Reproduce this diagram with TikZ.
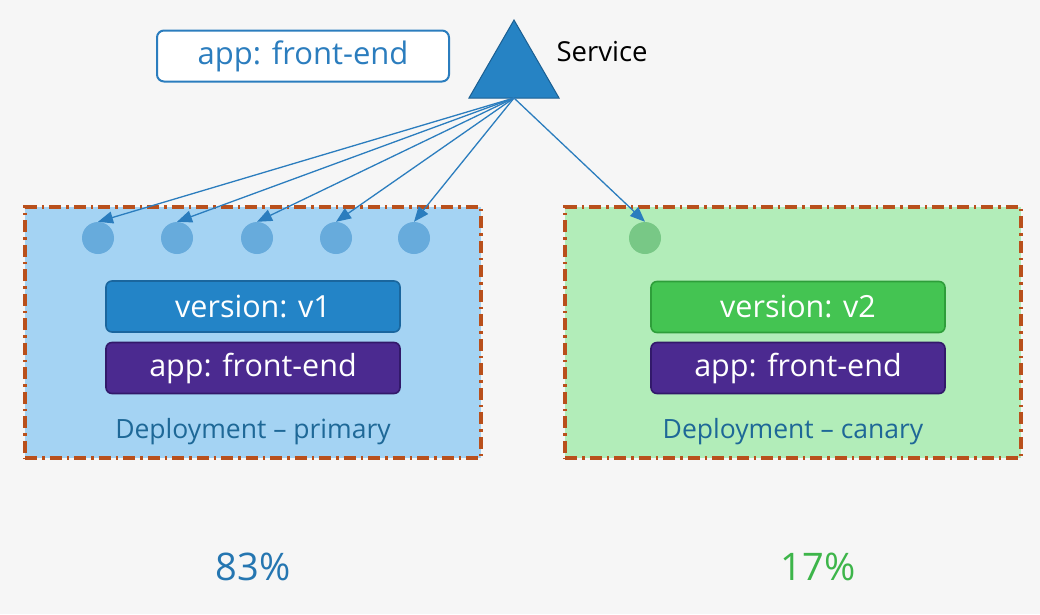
\documentclass[tikz,border=0pt]{standalone}
\usepackage{fontspec}
\setmainfont{Open Sans}
\usetikzlibrary{arrows.meta}
\usetikzlibrary{shapes.geometric}

\definecolor{bgcol}{HTML}{F6F6F6}
\definecolor{svcblue}{HTML}{2683C4}
\definecolor{svcedge}{HTML}{1B5F92}
\definecolor{linkblue}{HTML}{2B7DBE}
\definecolor{primfill}{HTML}{A4D3F3}
\definecolor{canfill}{HTML}{B2EDB9}
\definecolor{dashcol}{HTML}{B9501C}
\definecolor{podblue}{HTML}{67ABDC}
\definecolor{podgreen}{HTML}{78C886}
\definecolor{vonefill}{HTML}{2384C7}
\definecolor{voneedge}{HTML}{1A669E}
\definecolor{vtwofill}{HTML}{44C452}
\definecolor{vtwoedge}{HTML}{2E9E3A}
\definecolor{appfill}{HTML}{4B2A90}
\definecolor{appedge}{HTML}{32196A}
\definecolor{deptext}{HTML}{1E6897}
\definecolor{pctblue}{HTML}{2576B1}
\definecolor{pctgreen}{HTML}{3DB54A}

\tikzset{
  deploy/.style={draw=dashcol, line width=3.4pt, minimum width=456pt, minimum height=251pt,
    inner sep=0pt, dash pattern=on 12pt off 5pt on 2.5pt off 5pt},
  pod/.style={circle, minimum size=32pt, inner sep=0pt},
  tag/.style={rounded corners=6pt, line width=1.6pt, minimum width=294pt, minimum height=51pt,
    inner sep=0pt, text=white, font=\fontsize{30.5}{36}\selectfont},
  link/.style={linkblue, line width=1.3pt, -{Triangle[length=15pt, width=12pt]}},
  pct/.style={font=\fontsize{38}{45}\selectfont}
}

\begin{document}
\begin{tikzpicture}[x=1pt, y=-1pt]
\fill[bgcol] (0,0) rectangle (1040,614);
\useasboundingbox (0,0) rectangle (1040,614);

% service and its selector
\node[draw=linkblue, fill=white, rounded corners=7pt, line width=2pt, minimum width=292pt,
  minimum height=51pt, text=linkblue, font=\fontsize{31}{36}\selectfont] (sel) at (303,56) {app: front-end};
\node[regular polygon, regular polygon sides=3, minimum size=104pt, inner sep=0pt, outer sep=0pt,
  fill=svcblue, draw=svcedge, line width=1pt] (svc) at (514,72) {};
\node[anchor=west, font=\fontsize{27.5}{32}\selectfont] (svcname) at (553,52) {Service};

% deployments
\node[deploy, fill=primfill] (primary) at (253,332.5) {};
\node[deploy, fill=canfill] (canary) at (793,332.5) {};

\node[tag, fill=vonefill, draw=voneedge] (vone) at (253,306.5) {version: v1};
\node[tag, fill=appfill, draw=appedge] (appone) at (253,368) {app: front-end};
\node[text=deptext, font=\fontsize{26.5}{31}\selectfont] (depone) at (253,432) {Deployment – primary};

\node[tag, fill=vtwofill, draw=vtwoedge] (vtwo) at (798,307) {version: v2};
\node[tag, fill=appfill, draw=appedge] (apptwo) at (798,368) {app: front-end};
\node[text=deptext, font=\fontsize{26.5}{31}\selectfont] (deptwo) at (793,432) {Deployment – canary};

% pods
\foreach \i/\x in {1/98, 2/177, 3/257, 4/336, 5/414}
  \node[pod, fill=podblue] (p\i) at (\x,238) {};
\node[pod, fill=podgreen] (p6) at (645,238) {};

\foreach \i in {1,...,6}
  \draw[link] (svc.south) -- (p\i.north);

% traffic split
\node[pct, text=pctblue] (pone) at (253,567) {83\%};
\node[pct, text=pctgreen] (ptwo) at (818,567) {17\%};

\end{tikzpicture}
\end{document}
